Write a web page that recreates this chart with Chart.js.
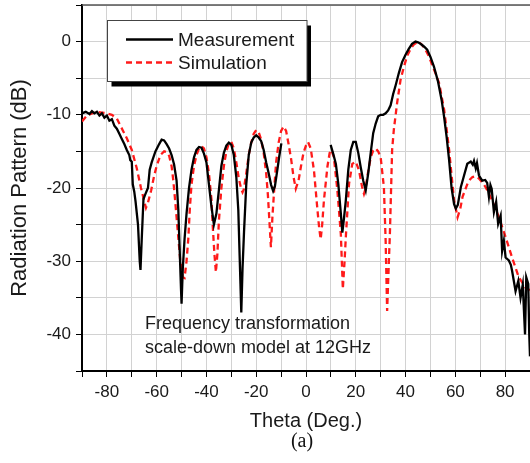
<!DOCTYPE html>
<html>
<head>
<meta charset="utf-8">
<script src="https://cdn.jsdelivr.net/npm/chart.js@4.4.1/dist/chart.umd.min.js"></script>
<style>
html,body{margin:0;padding:0;background:#fff;}
#wrap{width:530px;height:463px;position:relative;}
</style>
</head>
<body>
<div id="wrap"><canvas id="c" width="530" height="463"></canvas></div>
<script>
// ---- data ----
const measTheta = [-90,-88.5,-87,-86,-85,-84,-83,-82,-81,-80,-79,-78,-77,-76,-75,-74,-73,-72,-71,-70.6,-70,-69.6,-69,-68.5,-67.5,-66.8,-66.5,-66,-65.3,-64.5,-63.5,-62.8,-62,-60.5,-59,-58,-57,-56,-55,-54,-53,-52,-51.3,-50.8,-50.2,-50,-49.5,-48.8,-48,-47,-46,-45,-44,-43,-42,-41,-40,-39,-38,-37,-36,-35,-34,-33,-32,-31,-30,-29,-28,-27.2,-26.6,-26,-25.5,-24.9,-24,-23,-22,-21,-20,-19,-18,-17,-16,-15,-14,-13.2,-12.5,-11.5,-10.8,-9.9,0,9.9,11,12,13,14,14.6,15.3,16,17,18,19,20,21,22,23,24,25,26,27,28,29,30,31,32,33,34,35,36,37.3,38.6,40,41.3,42.6,44,45,46,47.5,48.7,50,51.4,53,54.5,55.5,56.5,57.5,58.5,59.5,60.2,61,62.2,63.5,64.8,66.2,67,67.5,68.2,68.7,69.5,70.8,72,72.8,73.5,74.1,74.6,75.5,76.4,77.2,78.2,78.8,79.5,80.2,81.5,82.3,82.8,84.2,85.3,86.2,87.1,88,88.5,89.3,89.7,90];
const measDb = [-9.8,-9.6,-9.9,-9.5,-9.8,-9.6,-10.1,-9.8,-10.4,-10.1,-10.8,-10.6,-11.5,-11.9,-12.6,-13.3,-14,-14.8,-15.5,-16.2,-16.4,-19.5,-20.5,-21.8,-25,-30,-31.2,-27,-21.5,-20.8,-20,-17.5,-16.5,-15,-14,-13.4,-13.5,-14,-14.6,-15.5,-16.8,-19,-23,-28,-34,-35.8,-31,-27,-23.5,-20,-17.5,-15.8,-14.8,-14.4,-14.5,-15.3,-16.5,-19.5,-22.5,-25,-23.5,-20.3,-17,-15.2,-14.2,-13.8,-14.1,-15.5,-18.5,-23,-30,-37,-31,-26,-19.5,-15.5,-13.8,-13.1,-12.8,-13.1,-13.6,-14.8,-16.5,-18,-19.6,-20.4,-19.8,-17.5,-15.8,-13.9,null,-14.1,-15.4,-16.7,-19.5,-23.5,-26.1,-24,-21.7,-17.5,-14.8,-13.7,-13.7,-15.2,-17.2,-19,-20.3,-18,-15.2,-12.5,-11.2,-10.2,-10,-10,-9.8,-9.4,-8.7,-7.2,-6,-4.3,-2.8,-1.8,-1,-0.3,0,-0.1,-0.3,-0.7,-1.1,-2.1,-3.4,-5.4,-8,-10.3,-13,-16.2,-20,-22.2,-22.8,-22.3,-19.9,-18.3,-16.7,-16.4,-16.8,-16.3,-17.3,-16.6,-18.3,-19,-18.9,-19.3,-21.2,-19.6,-20.1,-23.3,-21.9,-24.9,-23.8,-28.6,-27.2,-29.5,-29.9,-30.5,-31.3,-34.1,-32.7,-35,-33.2,-40,-32.2,-33.1,-40,-43];

const simTheta = [-90,-88,-86,-84,-82,-80,-78,-76,-75,-73.5,-72,-70,-68,-66.3,-65,-64.3,-63.5,-62.2,-61,-60,-58.5,-57,-56,-55,-54,-53.3,-52.5,-51.5,-50.5,-49.5,-48.8,-48,-47.3,-46.7,-46,-45,-44,-43,-42,-41,-40,-39,-38,-37.5,-36.8,-36.2,-35.6,-35,-34,-33,-32,-31,-30,-29,-28,-27,-26,-25.5,-25,-24,-23,-22,-21,-20,-19,-18,-17,-16,-15.3,-14.7,-14.1,-13.5,-12.8,-12,-11,-10,-9,-8,-7,-6,-5,-4.1,-3,-2,-1,0,0.8,1.9,3.2,4.5,5.3,5.9,6.5,7.2,8.6,9.5,10.2,11.2,12.6,14,14.8,15.5,16,17.3,18.6,20,21.3,22.5,23.3,24,24.6,26,27,28,29,30,31.3,32,32.6,33.2,33.7,34.2,34.6,35.3,36.6,38,39.3,40.6,42,43.3,45,46.5,48,49.5,50.7,52,53.5,54.5,55.5,56.5,57.5,58.5,59.5,60.9,62,62.9,64,64.9,66,66.9,68,69.5,71,72.2,74.8,77.5,80.2,82.8,85.5,88.2,90];
const simDb = [-10.9,-10.1,-9.8,-9.6,-9.7,-9.8,-10,-10.5,-11.2,-12.2,-13.2,-14.8,-17.3,-20,-21.8,-22.7,-22,-20.3,-18.3,-17,-15.5,-15,-15.1,-15.6,-17,-19,-22,-26,-30,-32.2,-32.3,-30,-27,-23,-19.5,-17,-15.5,-14.6,-14.3,-14.6,-15.8,-18,-21.5,-25,-29,-31.5,-29,-24.5,-20,-17,-15,-13.9,-13.7,-14.6,-16.5,-18.7,-20.2,-20.6,-20.2,-18,-15.5,-13.8,-12.6,-12.1,-12.4,-13.4,-15.2,-18,-21,-24.5,-28.1,-24,-20.3,-16.5,-13.8,-12.2,-11.6,-12.2,-14,-16,-18.5,-20.1,-19,-17,-15.2,-14.2,-13.7,-14.6,-17.6,-22.6,-25.5,-27,-25,-21.7,-17.1,-15.2,-14.8,-15.8,-20.3,-26.3,-33.8,-30,-26.7,-19.4,-16.7,-16.4,-17.6,-19.8,-20.8,-20,-18.5,-15.8,-14.9,-14.6,-15,-15.8,-19.9,-27.2,-36.8,-31,-26.3,-20,-14.8,-12,-8.4,-5.2,-3.5,-2,-1,-0.4,0,-0.4,-1.1,-2.1,-3.2,-4.3,-5.7,-7.5,-9.3,-12,-14.8,-18.3,-21.7,-24,-22.8,-21.2,-20.2,-19.4,-18.8,-18.5,-18.4,-18.7,-19.3,-19.9,-21.7,-24,-26.7,-29.5,-32.2,-33.6,-34];

const seriesNames = ['Measurement', 'Simulation'];
const yTitle = 'Radiation Pattern (dB)';
const xTitle = 'Theta (Deg.)';
const noteLines = ['Frequency transformation', 'scale-down model at 12GHz'];
const caption = '(a)';

const FONT = "'Liberation Sans', Arial, sans-serif";

const legendPlugin = {
  id: 'boxLegend',
  afterDatasetsDraw(chart) {
    const ctx = chart.ctx;
    ctx.save();
    // legend box with shadow
    const bx = 107.5, by = 20.5, bw = 199.5, bh = 61;
    ctx.fillStyle = '#000';
    ctx.fillRect(bx + 4, by + 5, bw, bh);
    ctx.fillStyle = '#fff';
    ctx.fillRect(bx, by, bw, bh);
    ctx.strokeStyle = '#444';
    ctx.lineWidth = 1;
    ctx.strokeRect(bx, by, bw, bh);
    const ds = chart.data.datasets;
    const rows = [39.5, 62.5];
    ds.forEach((d, i) => {
      ctx.beginPath();
      ctx.strokeStyle = d.borderColor;
      ctx.lineWidth = d.borderWidth;
      ctx.setLineDash(d.borderDash || []);
      ctx.moveTo(126, rows[i]);
      ctx.lineTo(173, rows[i]);
      ctx.stroke();
      ctx.setLineDash([]);
      ctx.fillStyle = '#1a1a1a';
      ctx.font = '19px ' + FONT;
      ctx.textBaseline = 'middle';
      ctx.textAlign = 'left';
      ctx.fillText(d.label, 178, rows[i] + 1);
    });
    // annotation
    ctx.font = '18px ' + FONT;
    ctx.fillStyle = '#1a1a1a';
    ctx.fillText(noteLines[0], 145, 324);
    ctx.fillText(noteLines[1], 145, 348);
    // top border
    const a = chart.chartArea;
    ctx.beginPath();
    ctx.strokeStyle = '#555';
    ctx.lineWidth = 1.5;
    ctx.moveTo(a.left, a.top);
    ctx.lineTo(a.right, a.top);
    ctx.stroke();
    // caption
    ctx.font = "20px 'Liberation Serif', 'Times New Roman', serif";
    ctx.textAlign = 'center';
    ctx.fillStyle = '#111';
    ctx.fillText(caption, 302, 442);
    ctx.restore();
  }
};

new Chart(document.getElementById('c'), {
  type: 'line',
  data: {
    datasets: [
      {
        label: seriesNames[0],
        data: measTheta.map((t, i) => ({x: t, y: measDb[i]})),
        borderColor: '#000',
        borderWidth: 2.3,
        pointRadius: 0,
        tension: 0,
        spanGaps: false
      },
      {
        label: seriesNames[1],
        data: simTheta.map((t, i) => ({x: t, y: simDb[i]})),
        borderColor: '#ff1a1a',
        borderWidth: 2.3,
        borderDash: [6, 4],
        pointRadius: 0,
        tension: 0
      }
    ]
  },
  options: {
    responsive: false,
    animation: false,
    devicePixelRatio: 1,
    layout: {padding: {top: 5, right: 0, bottom: 30, left: 0}},
    plugins: {legend: {display: false}, tooltip: {enabled: false}},
    scales: {
      x: {
        type: 'linear',
        min: -90, max: 90,
        afterFit(s) { s.height = 62; s.paddingLeft = 0; s.paddingRight = 0; },
        ticks: {
          stepSize: 10, autoSkip: false, maxRotation: 0, padding: 5,
          color: '#1a1a1a', font: {family: FONT, size: 17},
          callback: v => (v % 20 === 0 && Math.abs(v) < 90) ? String(v) : ''
        },
        grid: {color: '#d2d2d2', lineWidth: 1, tickColor: '#000', tickLength: 6},
        border: {color: '#000', width: 2},
        title: {display: true, text: xTitle, color: '#1a1a1a', font: {family: FONT, size: 20}, padding: {top: 0, bottom: 0}}
      },
      y: {
        min: -45, max: 5,
        afterFit(s) { s.width = 82; s.paddingTop = 0; s.paddingBottom = 0; },
        ticks: {
          stepSize: 5, autoSkip: false, padding: 5,
          color: '#1a1a1a', font: {family: FONT, size: 17},
          callback: v => (v % 10 === 0 && v < 5) ? String(v) : ''
        },
        grid: {color: '#d2d2d2', lineWidth: 1, tickColor: '#000', tickLength: 6},
        border: {color: '#000', width: 2},
        title: {display: true, text: yTitle, color: '#1a1a1a', font: {family: FONT, size: 22}, padding: {top: 7, bottom: 0}}
      }
    }
  },
  plugins: [legendPlugin]
});
</script>
</body>
</html>
